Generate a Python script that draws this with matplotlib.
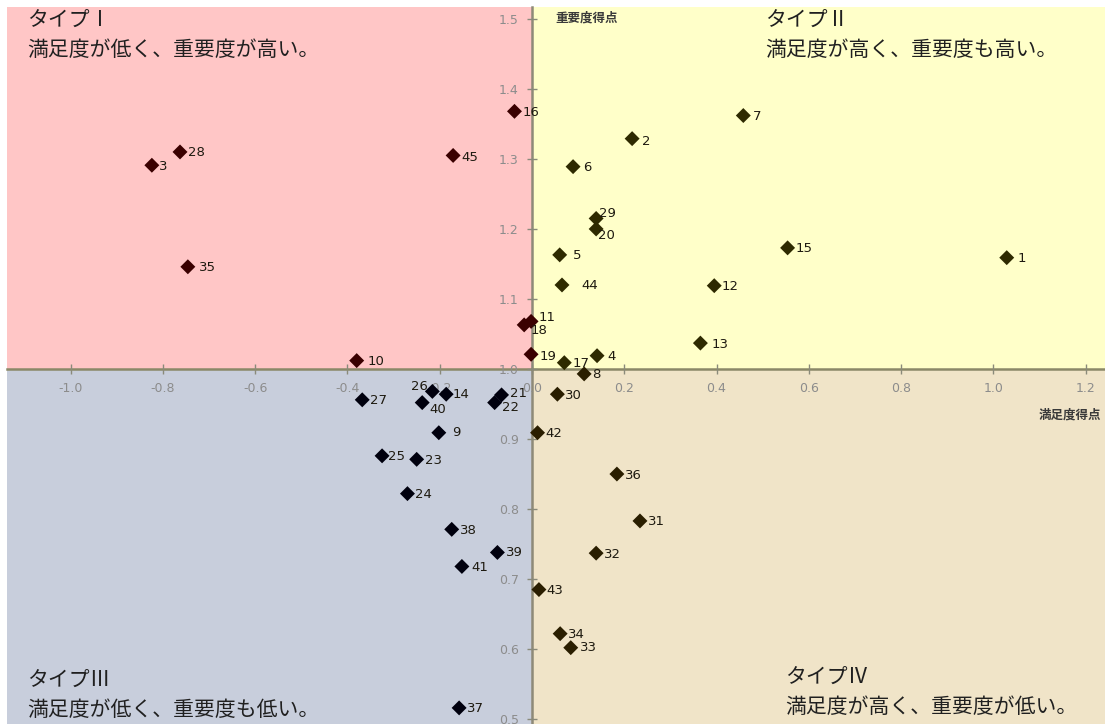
import matplotlib
matplotlib.use("Agg")
import matplotlib.pyplot as plt
from matplotlib.patches import Rectangle
import numpy as np

plt.rcParams['font.family'] = ['DejaVu Sans', 'Noto Sans CJK JP']

# ---- data ----
ids = list(range(1, 46))
satisfaction = [1.029, 0.217, -0.824, 0.141, 0.060, 0.089, 0.458, 0.113, -0.202, -0.380,
                -0.002, 0.395, 0.365, -0.186, 0.554, -0.038, 0.070, -0.017, -0.002, 0.139,
                -0.066, -0.081, -0.250, -0.270, -0.325, -0.216, -0.368, -0.763, 0.139, 0.055,
                0.234, 0.139, 0.084, 0.061, -0.746, 0.184, -0.158, -0.174, -0.075, -0.238,
                -0.152, 0.012, 0.015, 0.065, -0.171]
importance = [1.159, 1.329, 1.291, 1.019, 1.163, 1.289, 1.362, 0.993, 0.909, 1.012,
              1.068, 1.119, 1.037, 0.964, 1.173, 1.368, 1.009, 1.063, 1.021, 1.200,
              0.963, 0.952, 0.871, 0.822, 0.876, 0.968, 0.956, 1.310, 1.215, 0.964,
              0.783, 0.737, 0.602, 0.622, 1.146, 0.850, 0.516, 0.771, 0.738, 0.952,
              0.718, 0.909, 0.685, 1.120, 1.305]
xticks = [-1.0, -0.8, -0.6, -0.4, -0.2, 0.0, 0.2, 0.4, 0.6, 0.8, 1.0, 1.2]
yticks = [0.5, 0.6, 0.7, 0.8, 0.9, 1.0, 1.1, 1.2, 1.3, 1.4, 1.5]
x_title = "満足度得点"
y_title = "重要度得点"
quad_titles = ["タイプⅠ", "タイプⅡ", "タイプⅢ", "タイプⅣ"]
quad_desc = ["満足度が低く、重要度が高い。", "満足度が高く、重要度も高い。",
             "満足度が低く、重要度も低い。", "満足度が高く、重要度が低い。"]

# ---- style ----
W, H = 1105, 724
fig = plt.figure(figsize=(W / 100, H / 100), dpi=100)
left_px, top_px = 7, 7
ax = fig.add_axes([left_px / W, 0, (W - left_px) / W, (H - top_px) / H])
xmin, xmax = -1.138, 1.242
ymin, ymax = 0.493, 1.517
ax.set_xlim(xmin, xmax)
ax.set_ylim(ymin, ymax)
ax.set_facecolor('white')

xc, yc = 0.0, 1.0
quad_colors = ['#FFC6C6', '#FFFFC9', '#C8CEDC', '#F0E4C8']
ax.add_patch(Rectangle((xmin, yc), xc - xmin, ymax - yc, color=quad_colors[0], zorder=0, lw=0))
ax.add_patch(Rectangle((xc, yc), xmax - xc, ymax - yc, color=quad_colors[1], zorder=0, lw=0))
ax.add_patch(Rectangle((xmin, ymin), xc - xmin, yc - ymin, color=quad_colors[2], zorder=0, lw=0))
ax.add_patch(Rectangle((xc, ymin), xmax - xc, yc - ymin, color=quad_colors[3], zorder=0, lw=0))

# axes through the centre
for s in ['top', 'right']:
    ax.spines[s].set_visible(False)
ax.spines['left'].set_position(('data', xc))
ax.spines['bottom'].set_position(('data', yc))
ax.spines['left'].set_color('#8E8A78')
ax.spines['bottom'].set_color('#8A8868')
ax.spines['left'].set_linewidth(1.8)
ax.spines['bottom'].set_linewidth(1.8)
ax.spines['left'].set_zorder(1)
ax.spines['bottom'].set_zorder(1)
ax.set_xticks(xticks)
ax.set_yticks(yticks)
ax.set_xticklabels([f"{v:.1f}" for v in xticks])
ax.set_yticklabels([f"{v:.1f}" for v in yticks])
ax.tick_params(axis='both', direction='inout', length=7, width=1, colors='#8A8A7A',
               labelcolor='#8C8C8C', labelsize=9)
ax.tick_params(axis='x', pad=6)
ax.tick_params(axis='y', pad=6)

# points
sx = np.array(satisfaction)
iy = np.array(importance)
cols = np.where(iy >= yc, np.where(sx < xc, '#3A0000', '#2E2A00'),
                np.where(sx < xc, '#00000E', '#2A1E00'))
ax.scatter(sx, iy, marker='D', s=58, c=cols, zorder=3, linewidths=0)

offsets = {1: (11, -1), 2: (10, -3), 3: (7, -1), 4: (10, -1), 5: (13, -1), 6: (10, -1),
           7: (10, -1), 8: (8, -1), 9: (13, 0), 10: (11, -1), 11: (7, 4), 12: (7, -1),
           13: (11, -1), 14: (6, 0), 15: (8, -1), 16: (8, -1), 17: (8, -1), 18: (6, -6),
           19: (8, -2), 20: (2, -7), 21: (8, 1), 22: (7, -5), 25: (6, -1), 26: (-4, 5),
           29: (3, 5), 35: (11, -1), 39: (9, 0), 40: (7, -7), 41: (9, -1), 43: (7, -1),
           33: (9, 0), 44: (19, -1), 45: (8, -2)}
for i, x, y in zip(ids, satisfaction, importance):
    dx, dy = offsets.get(i, (8, -1))
    ha = 'right' if dx < 0 else 'left'
    ax.annotate(str(i), (x, y), xytext=(dx, dy), textcoords='offset pixels',
                ha=ha, va='center', fontsize=9.5, color='#1E1A10', zorder=4)

jp = ['Noto Sans CJK JP', 'DejaVu Sans']
ax.text(555 / W, 1 - 18 / H, y_title, transform=fig.transFigure, family=jp, fontsize=9,
        color='#3A3A3A', ha='left', va='center', weight='bold')
ax.text(1101 / W, 1 - 415 / H, x_title, transform=fig.transFigure, family=jp, fontsize=9,
        color='#3A3A3A', ha='right', va='center', weight='bold')

qpos = [(27, 20), (765, 20), (27, 680), (785, 677)]
for (px, py), t, d in zip(qpos, quad_titles, quad_desc):
    fig.text(px / W, 1 - py / H, t, family=jp, fontsize=15, color='#202020', ha='left', va='center')
    fig.text(px / W, 1 - (py + 30) / H, d, family=jp, fontsize=15, color='#202020', ha='left', va='center')

fig.savefig('out.png', dpi=100, facecolor='white')
